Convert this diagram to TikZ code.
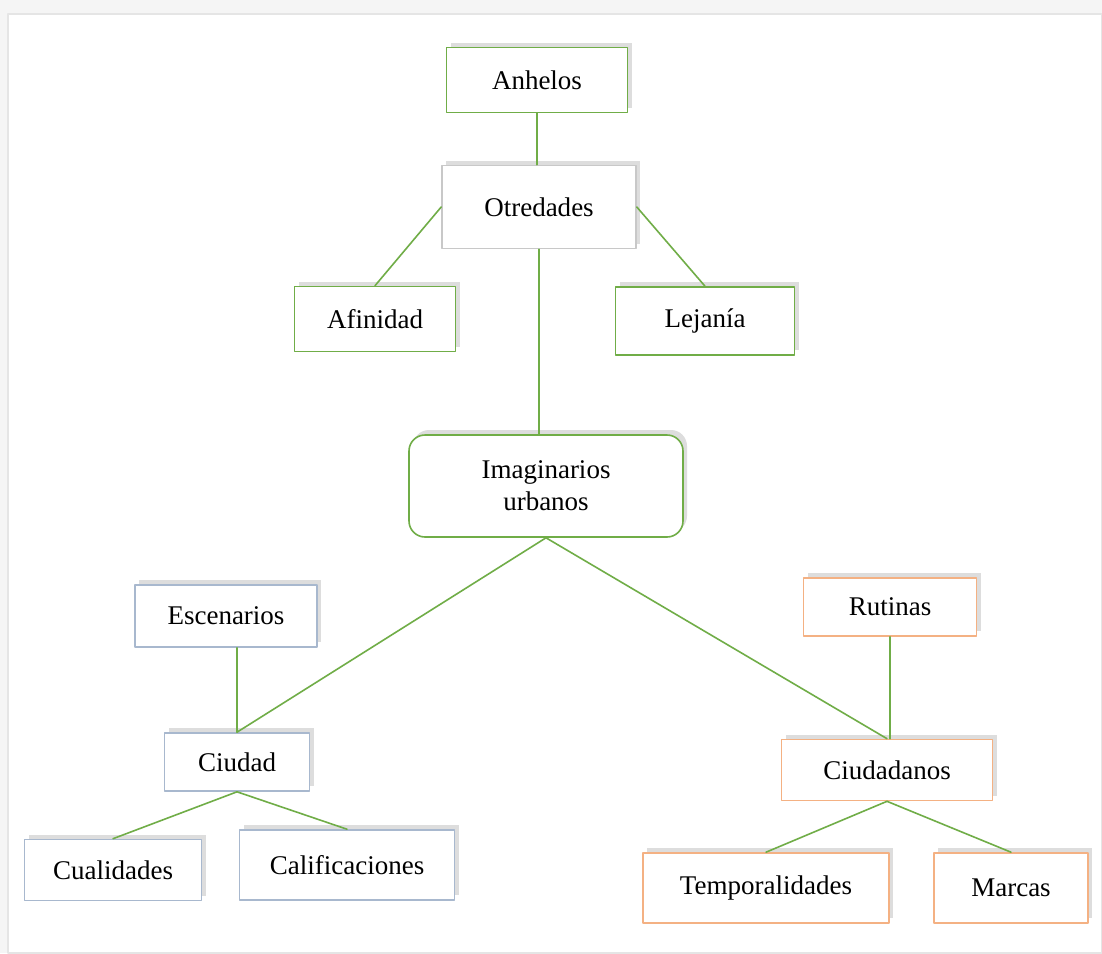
\documentclass[tikz,border=0pt]{standalone}
\usepackage{fontspec}
\setmainfont{Liberation Serif}
\usetikzlibrary{shadows}
\definecolor{verde}{RGB}{112,173,71}
\definecolor{naranja}{RGB}{244,177,131}
\definecolor{azulgris}{RGB}{168,184,206}
\definecolor{grisclaro}{RGB}{200,200,200}
\begin{document}
\begin{tikzpicture}[x=0.5pt,y=-0.5pt,line cap = round, line join = round]
			\tikzstyle{caja}=[rectangle,fill=white,line width=0.8pt,inner sep=2pt,font=\fontsize{13.5}{16}\selectfont,drop shadow={shadow xshift=2pt,shadow yshift=2.5pt,opacity=0.22,fill=black!60}]
			\tikzstyle{linea}=[draw=verde,line width=0.8pt]
			\useasboundingbox (0,0) rectangle (1102,953);
			\fill[black!4] (0,0) rectangle (1102,953);
			\filldraw[fill=white,draw=black!10,line width=1pt] (8,14) rectangle (1102,953);
			\foreach \n/\x/\y/\w/\h/\c/\t in {anh/537/80/181/65/verde/Anhelos, otr/539/207/194/83/grisclaro/Otredades, afi/375/319/161/65/verde/Afinidad, lej/705/321/179/68/verde/Lejanía, esc/226/616/182/62/azulgris/Escenarios, ciu/237/762/145/58/azulgris/Ciudad, cua/113/870/177/61/azulgris/Cualidades, cal/347/865/215/70/azulgris/Calificaciones, rut/890/607/173/58/naranja/Rutinas, cdn/887/770/211/61/naranja/Ciudadanos, tem/766/888/246/70/naranja/Temporalidades, mar/1011/888/154/70/naranja/Marcas} {\node[caja,draw=\c,minimum width=\w*0.5pt,minimum height=\h*0.5pt] (\n) at (\x,\y) {\t};}
			\node[caja,draw=verde,rounded corners=8pt,align=center,minimum width=137pt,minimum height=51pt] (ima) at (546,486) {Imaginarios\\urbanos};
			\foreach \a/\b in {anh.south/anh.south |- otr.north, otr.west/afi.north, otr.east/lej.north, otr.south/otr.south |- ima.north, ima.south/ciu.north, ima.south/cdn.north, ciu.north |- esc.south/ciu.north, rut.south/rut.south |- cdn.north, ciu.south/cua.north, ciu.south/cal.north, cdn.south/tem.north, cdn.south/mar.north} {\draw[linea] (\a) -- (\b);}
		\end{tikzpicture}
\end{document}
